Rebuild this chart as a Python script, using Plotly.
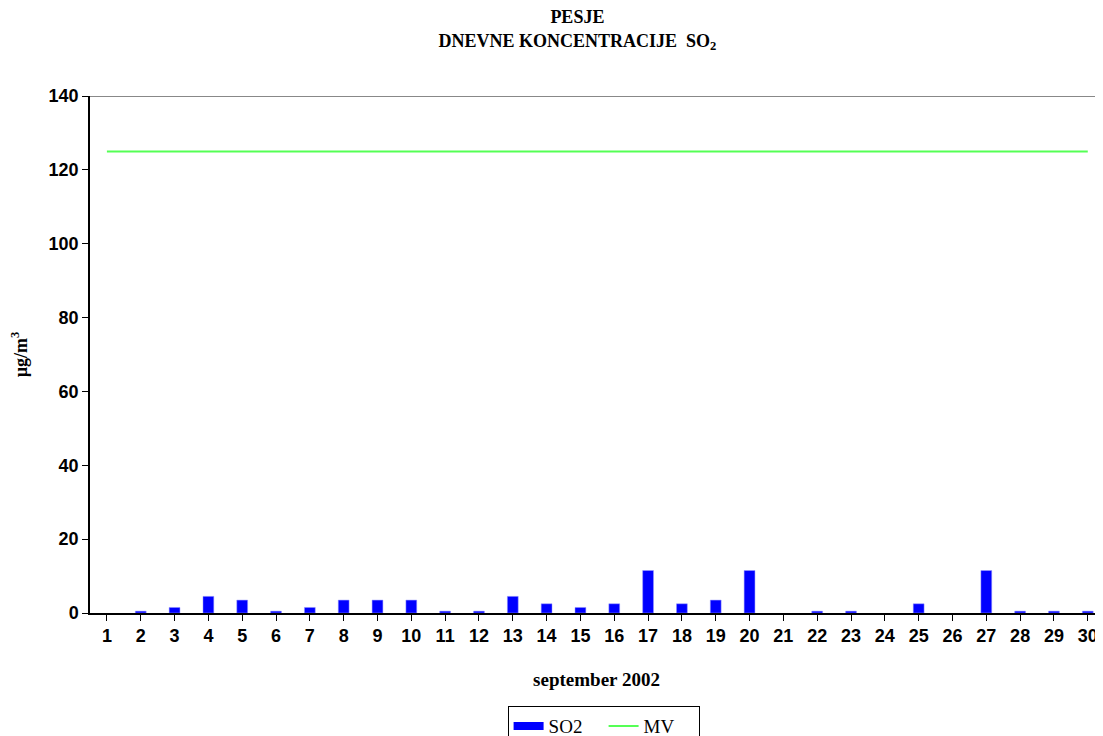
import plotly.graph_objects as go

days = list(range(1, 31))
day_labels = [str(d) for d in days]
so2 = [None, 0.5, 1.5, 4.5, 3.5, 0.5, 1.5, 3.5, 3.5, 3.5,
       0.5, 0.5, 4.5, 2.5, 1.5, 2.5, 11.5, 2.5, 3.5, 11.5,
       None, 0.5, 0.5, None, 2.5, None, 11.5, 0.5, 0.5, 0.5]
mv = [125] * 30
y_ticks = [0, 20, 40, 60, 80, 100, 120, 140]

BLUE = "#0000FF"
GREEN = "#55FF55"

fig = go.Figure()
fig.add_trace(go.Bar(
    x=days, y=so2, name="SO2", width=0.32, showlegend=False,
    marker=dict(color=BLUE, line=dict(color="#9999FF", width=0.5)),
))
# legend proxy for the bar series (wide rectangle swatch)
fig.add_trace(go.Scatter(
    x=[None], y=[None], name="SO2", mode="lines",
    line=dict(color=BLUE, width=8),
))
fig.add_trace(go.Scatter(
    x=days, y=mv, name="MV", mode="lines",
    line=dict(color=GREEN, width=2),
))

fig.add_shape(type="line", xref="paper", yref="y", x0=0, x1=1, y0=140, y1=140,
              line=dict(color="#888888", width=2))

fig.update_layout(
    width=1095, height=728,
    margin=dict(l=82, r=0, t=88, b=123, autoexpand=False),
    plot_bgcolor="white", paper_bgcolor="white",
    showlegend=True,
    title=dict(
        text="PESJE<br>DNEVNE KONCENTRACIJE  SO<sub>2</sub>",
        font=dict(family="Liberation Serif", size=18, color="black", weight="bold"),
        x=0.52, xanchor="center", y=0.979, yanchor="top", automargin=False,
    ),
    legend=dict(
        orientation="h", x=0.507, xanchor="center", y=-0.18, yanchor="top",
        bordercolor="black", borderwidth=1, entrywidth=50,
        font=dict(family="Liberation Serif", size=19, color="black"),
    ),
)
fig.update_xaxes(
    range=[0.5, 30.45], tickmode="array", tickvals=days, ticktext=day_labels,
    tickson="boundaries", ticks="outside", ticklen=6, tickcolor="black",
    showline=True, linecolor="black", linewidth=1.5, showgrid=False, zeroline=False,
    automargin=False,
    tickfont=dict(family="Liberation Sans", size=18, color="black", weight="bold"),
    title=dict(text="september 2002", standoff=27,
               font=dict(family="Liberation Serif", size=19, color="black", weight="bold")),
)
fig.update_yaxes(
    range=[0, 140], tickvals=y_ticks,
    ticks="outside", ticklen=6, tickcolor="black",
    showline=True, linecolor="black", linewidth=1.5, showgrid=False, zeroline=False,
    automargin=True,
    tickfont=dict(family="Liberation Sans", size=18, color="black", weight="bold"),
    title=dict(text="µg/m<sup>3</sup>", standoff=30,
               font=dict(family="Liberation Serif", size=18, color="black", weight="bold")),
)

fig.write_html("out.html")
